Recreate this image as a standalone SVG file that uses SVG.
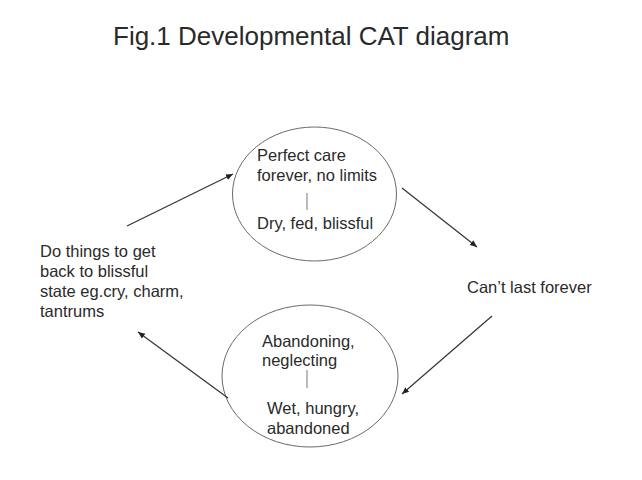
<svg xmlns="http://www.w3.org/2000/svg" width="642" height="480" viewBox="0 0 642 480">
<style>
text{font-family:"Liberation Sans",Arial,sans-serif;fill:#2a2a2a}
.t{font-size:16.5px}
.title{font-size:26px}
.ell{fill:none;stroke:#6a6a6a;stroke-width:1}
.conn{stroke:#333;stroke-width:1.2;fill:none;marker-end:url(#ah)}
.tick{stroke:#777;stroke-width:1}
</style>
<defs>
<marker id="ah" markerWidth="8" markerHeight="8" refX="7" refY="4" orient="auto" markerUnits="userSpaceOnUse">
<path d="M0,1 L7,4 L0,7 z" fill="#222"/>
</marker>
</defs>
<rect width="642" height="480" fill="#fff"/>
<text class="title" x="113" y="45">Fig.1 Developmental CAT diagram</text>
<g id="node-top">
<ellipse class="ell" cx="314.5" cy="194" rx="82" ry="67"/>
<text class="t" x="257" y="161">Perfect care</text>
<text class="t" x="257" y="181">forever, no limits</text>
<line class="tick" x1="307" y1="193" x2="307" y2="210"/>
<text class="t" x="257" y="229">Dry, fed, blissful</text>
</g>
<g id="node-right">
<text class="t" x="467" y="293">Can’t last forever</text>
</g>
<g id="node-bottom">
<ellipse class="ell" cx="310" cy="376" rx="88" ry="71"/>
<text class="t" x="262" y="347">Abandoning,</text>
<text class="t" x="262" y="366">neglecting</text>
<line class="tick" x1="307" y1="370" x2="307" y2="388"/>
<text class="t" x="267" y="414">Wet, hungry,</text>
<text class="t" x="267" y="434">abandoned</text>
</g>
<g id="node-left">
<text class="t" x="40" y="257">Do things to get</text>
<text class="t" x="40" y="277">back to blissful</text>
<text class="t" x="40" y="297">state eg.cry, charm,</text>
<text class="t" x="40" y="317">tantrums</text>
</g>
<g id="connectors">
<line class="conn" x1="127" y1="226" x2="233" y2="174"/>
<line class="conn" x1="402" y1="188" x2="477" y2="247"/>
<line class="conn" x1="492" y1="316" x2="402" y2="394"/>
<line class="conn" x1="228" y1="398" x2="138" y2="332"/>
</g>
</svg>
